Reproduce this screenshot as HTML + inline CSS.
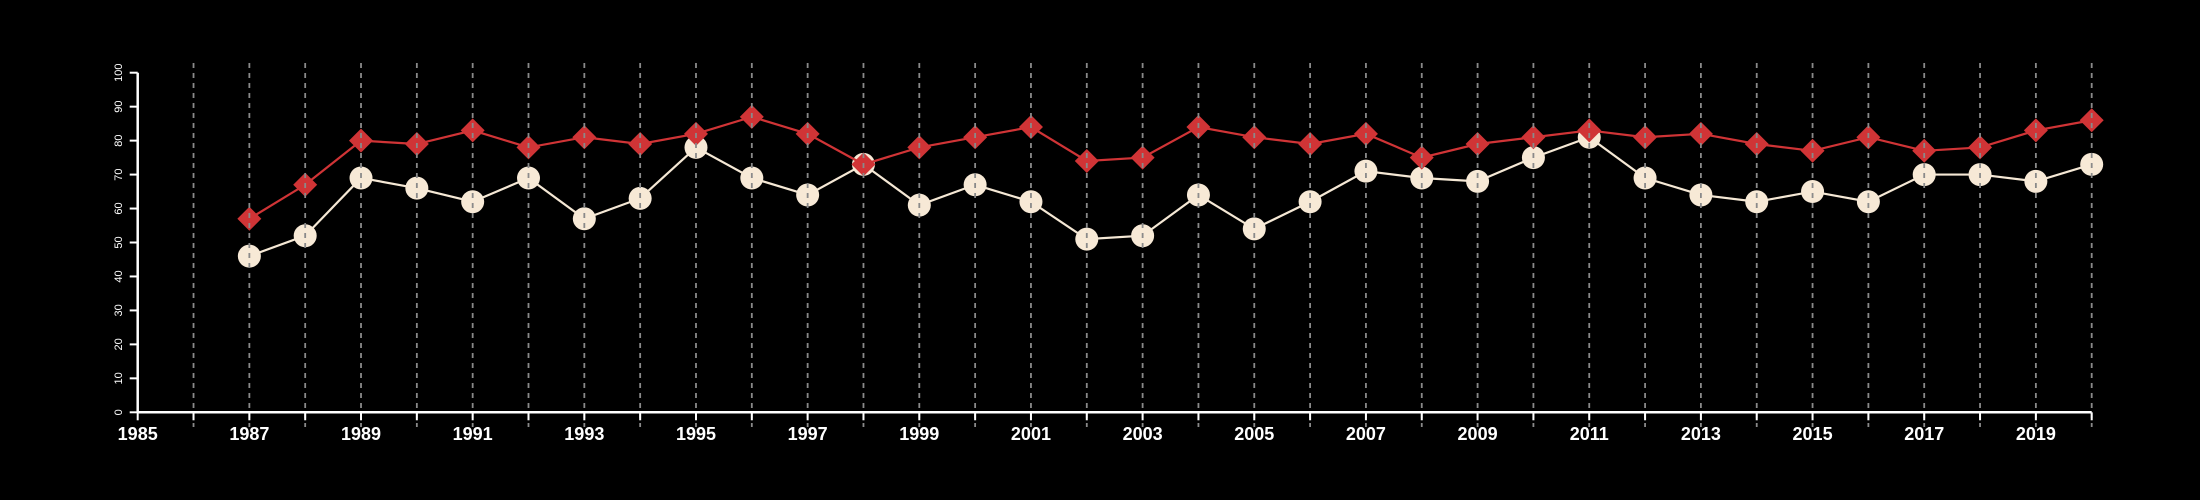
<!DOCTYPE html>
<html><head><meta charset="utf-8"><style>
html,body{margin:0;padding:0;background:#000;}
svg{display:block;font-family:"Liberation Sans",sans-serif;}
</style></head><body>
<svg id="chart" width="2200" height="500" viewBox="0 0 2200 500">
<rect width="2200" height="500" fill="#000"/>
<g id="series"></g>
<g id="grid"></g>
<g id="axes"></g>
</svg>
<script>
const years = [1987,1988,1989,1990,1991,1992,1993,1994,1995,1996,1997,1998,1999,2000,2001,2002,2003,2004,2005,2006,2007,2008,2009,2010,2011,2012,2013,2014,2015,2016,2017,2018,2019,2020];
const redValues = [57,67,80,79,83,78,81,79,82,87,82,73,78,81,84,74,75,84,81,79,82,75,79,81,83,81,82,79,77,81,77,78,83,86];
const creamValues = [46,52,69,66,62,69,57,63,78,69,64,73,61,67,62,51,52,64,54,62,71,69,68,75,81,69,64,62,65,62,70,70,68,73];
const xTickLabels = [1985,1987,1989,1991,1993,1995,1997,1999,2001,2003,2005,2007,2009,2011,2013,2015,2017,2019];
const yTickLabels = [0,10,20,30,40,50,60,70,80,90,100];

const NS="http://www.w3.org/2000/svg";
const X0=137.7,X1=2091.7,Y0=412.3,Y1=72.7;
const xs=v=>X0+(v-1985)*(X1-X0)/35;
const ys=v=>Y0-(v)*(Y0-Y1)/100;
function mk(tag,attrs,parent){const e=document.createElementNS(NS,tag);for(const k in attrs)e.setAttribute(k,attrs[k]);parent.appendChild(e);return e;}
const gS=document.getElementById('series'),gG=document.getElementById('grid'),gA=document.getElementById('axes');

// cream series
let p=years.map((y,i)=>xs(y)+','+ys(creamValues[i])).join(' ');
let l=mk('polyline',{points:p,fill:'none',stroke:'#f5e8d5','stroke-width':2.2},gS);


years.forEach((y,i)=>{
 const c=mk('circle',{cx:xs(y),cy:ys(creamValues[i]),r:11.5,fill:'#f7e9d6'},gS);
 
 
});
// red series
p=years.map((y,i)=>xs(y)+','+ys(redValues[i])).join(' ');
l=mk('polyline',{points:p,fill:'none',stroke:'#d03436','stroke-width':2.2},gS);


years.forEach((y,i)=>{
 const cx=xs(y),cy=ys(redValues[i]),r=12;
 const d=mk('polygon',{points:`${cx},${cy-r} ${cx+r},${cy} ${cx},${cy+r} ${cx-r},${cy}`,fill:'#d03436'},gS);
 
 
});
// grid
for(let y=1986;y<=2020;y++){
 const g=mk('line',{x1:xs(y),x2:xs(y),y1:63,y2:427,stroke:'#8a8a8a','stroke-width':1.8,'stroke-dasharray':'5,5'},gG);
 
 
}
// axes
let a=mk('line',{x1:X0,x2:X1,y1:Y0,y2:Y0,stroke:'#fff','stroke-width':2.5},gA);


a=mk('line',{x1:X0,x2:X0,y1:Y0,y2:Y1,stroke:'#fff','stroke-width':2.5},gA);


for(let y=1985;y<=2020;y++){
 const t=mk('line',{x1:xs(y),x2:xs(y),y1:Y0,y2:Y0+8,stroke:'#fff','stroke-width':2},gA);
 
 
}
xTickLabels.forEach(v=>{
 const t=mk('text',{x:xs(v),y:440,'text-anchor':'middle',fill:'#fff','font-size':18,'font-weight':'bold'},gA);
 t.textContent=v;
 
 
});
yTickLabels.forEach(v=>{
 const tk=mk('line',{x1:X0-8,x2:X0,y1:ys(v),y2:ys(v),stroke:'#fff','stroke-width':2},gA);
 
 
 const t=mk('text',{x:0,y:0,'text-anchor':'middle',fill:'#fff','font-size':11,transform:`translate(122,${ys(v)}) rotate(-90)`},gA);
 t.textContent=v;
 
 
});
</script>
</body></html>
